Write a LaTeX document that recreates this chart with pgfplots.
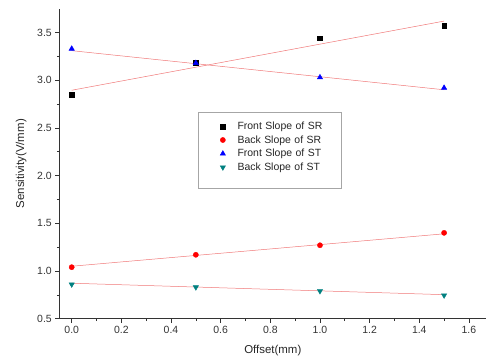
\documentclass[border=0pt]{standalone}
\usepackage{fontspec}
\setmainfont{Liberation Sans}
\usepackage{pgfplots}
\pgfplotsset{compat=1.18}
\definecolor{teal2}{RGB}{0,128,128}
\definecolor{fitred}{RGB}{240,120,120}
\begin{document}
\begin{tikzpicture}
\begin{axis}[
  scale only axis,
  width=427bp, height=310bp,
  xmin=-0.05, xmax=1.67, ymin=0.5, ymax=3.75,
  axis x line=bottom, axis y line=left,
  axis line style={-, black!80, line width=0.9pt},
  xtick={0,0.2,...,1.6}, ytick={0.5,1.0,...,3.5},
  minor x tick num=1, minor y tick num=1,
  tick align=outside, tickwidth=4bp, subtickwidth=2.5bp,
  tick style={black!80, line width=0.6pt},
  xticklabel style={/pgf/number format/.cd, fixed, fixed zerofill, precision=1},
  yticklabel style={/pgf/number format/.cd, fixed, fixed zerofill, precision=1},
  /pgf/number format/assume math mode=true,
  ticklabel style={font=\fontsize{10.5}{12}\selectfont, text=black!80},
  xlabel={Offset(mm)}, ylabel={Sensitivity(V/mm)},
  label style={font=\fontsize{11.5}{13}\selectfont, text=black!85},
  xlabel style={yshift=-5bp},
  ylabel style={yshift=4bp},
  legend cell align=left,
  legend style={at={(0.324,0.668)}, anchor=north west, draw=black!35,
    font=\fontsize{10.5}{12}\selectfont, text=black!85,
    row sep=0.6pt, column sep=10bp, inner xsep=12bp, inner ysep=8bp,
    text width=90bp},
  legend image code/.code={\draw[#1, only marks] plot coordinates {(13bp,0cm)};},
]
\addplot[only marks, mark=square*, mark size=2.4bp, black] coordinates {(0,2.85) (0.5,3.18) (1.0,3.44) (1.5,3.57)};
\addlegendentry{Front Slope of SR}
\addplot[only marks, mark=*, mark size=2.6bp, red] coordinates {(0,1.04) (0.5,1.17) (1.0,1.27) (1.5,1.40)};
\addlegendentry{Back Slope of SR}
\addplot[only marks, mark=triangle*, mark size=3.1bp, blue] coordinates {(0,3.33) (0.5,3.18) (1.0,3.03) (1.5,2.92)};
\addlegendentry{Front Slope of ST}
\addplot[only marks, mark=triangle*, mark options={rotate=180}, mark size=3.1bp, teal2] coordinates {(0,0.86) (0.5,0.83) (1.0,0.79) (1.5,0.745)};
\addlegendentry{Back Slope of ST}
\addlegendimage{empty legend}
\addlegendentry{}
\addplot[fitred, line width=0.5pt, forget plot] coordinates {(0,2.895) (1.5,3.62)};
\addplot[fitred, line width=0.5pt, forget plot] coordinates {(0,3.31) (1.5,2.90)};
\addplot[fitred, line width=0.5pt, forget plot] coordinates {(0,1.05) (1.5,1.39)};
\addplot[fitred, line width=0.5pt, forget plot] coordinates {(0,0.872) (1.5,0.752)};
\end{axis}
\pgfresetboundingbox
\path (current axis.south west) ++(-59.3bp,-43.3bp) rectangle ++(487bp,362bp);
\end{tikzpicture}
\end{document}
